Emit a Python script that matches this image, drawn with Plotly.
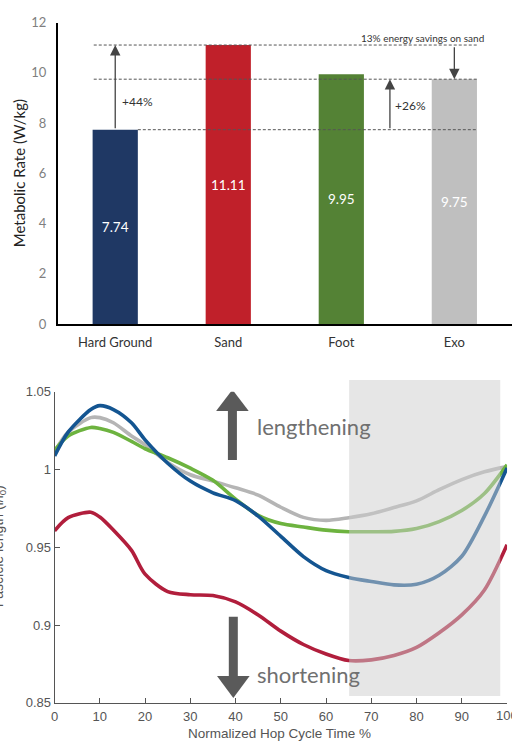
import plotly.graph_objects as go

# ---- Metabolic rate per condition ----
conditions = ["Hard Ground", "Sand", "Foot", "Exo"]
metabolic_rate = [7.74, 11.11, 9.95, 9.75]
bar_colors = ["#1f3864", "#c0202a", "#548235", "#bfbfbf"]

# ---- Fascicle length over the hop cycle ----
hop_pct = [0, 3, 8, 10, 13, 17, 20, 25, 30, 35, 40, 45, 50, 55, 60, 65, 70, 75, 80, 85, 90, 95, 100]
fl_blue = [1.0087, 1.0240, 1.0385, 1.0410, 1.0385, 1.0300, 1.0190, 1.0040, 0.9925, 0.9850, 0.9800, 0.9700,
           0.9570, 0.9440, 0.9350, 0.9306, 0.9280, 0.9258, 0.9262, 0.9320, 0.9442, 0.9700, 1.0010]
fl_gray = [1.0113, 1.0240, 1.0333, 1.0333, 1.0300, 1.0215, 1.0159, 1.0045, 0.9966, 0.9925, 0.9882, 0.9835,
           0.9757, 0.9692, 0.9673, 0.9690, 0.9715, 0.9755, 0.9798, 0.9870, 0.9935, 0.9985, 1.0018]
fl_green = [1.0123, 1.0215, 1.0270, 1.0263, 1.0238, 1.0180, 1.0133, 1.0075, 1.0008, 0.9930, 0.9809, 0.9705,
            0.9652, 0.9630, 0.9610, 0.9600, 0.9600, 0.9602, 0.9620, 0.9665, 0.9736, 0.9845, 1.0029]
fl_red = [0.9606, 0.9690, 0.9725, 0.9694, 0.9610, 0.9480, 0.9327, 0.9215, 0.9195, 0.9190, 0.9149, 0.9065,
          0.8961, 0.8875, 0.8814, 0.8772, 0.8776, 0.8804, 0.8856, 0.8950, 0.9065, 0.9225, 0.9516]
line_series = [(fl_gray, "#b5b5b5"), (fl_green, "#6db33f"), (fl_blue, "#145591"), (fl_red, "#b11e3c")]
x_ticks = [0, 10, 20, 30, 40, 50, 60, 70, 80, 90, 100]

W, H = 512, 750
CAL = "Lato, 'Open Sans', sans-serif"
ARIAL = "'Liberation Sans', Arial, sans-serif"

fig = go.Figure()

fig.add_trace(go.Bar(
    x=conditions, y=metabolic_rate, marker=dict(color=bar_colors, line=dict(width=0)),
    width=0.4, text=[f"{v:.2f}" for v in metabolic_rate], textposition="inside",
    insidetextanchor="middle", textangle=0,
    textfont=dict(family=CAL, size=13.5, color="white"),
    xaxis="x", yaxis="y", showlegend=False, hoverinfo="skip",
))

for vals, col in line_series:
    fig.add_trace(go.Scatter(
        x=hop_pct, y=vals, mode="lines", line=dict(color=col, width=3.6, shape="spline", smoothing=0.8),
        xaxis="x2", yaxis="y2", showlegend=False, hoverinfo="skip",
    ))

hg, sand, foot, exo = metabolic_rate
dash_col = "#555555"
shapes = [
    dict(type="line", xref="x", yref="y", x0=-0.19, x1=3.21, y0=sand, y1=sand,
         line=dict(color=dash_col, width=1, dash="3px,2px")),
    dict(type="line", xref="x", yref="y", x0=-0.19, x1=3.21, y0=exo, y1=exo,
         line=dict(color=dash_col, width=1, dash="3px,2px")),
    dict(type="line", xref="x", yref="y", x0=0.2, x1=3.2, y0=hg, y1=hg,
         line=dict(color=dash_col, width=1, dash="3px,2px")),
    # shaded late-cycle region, drawn over the curves so they fade inside it
    dict(type="rect", xref="x2", yref="paper", x0=65.1, x1=98.5, y0=1 - 703 / H, y1=1 - 380 / H,
         fillcolor="rgba(205,205,205,0.5)", line=dict(width=0), layer="above"),
    # lengthening arrow
    dict(type="line", xref="x2", yref="y2", x0=39.3, x1=39.3, y0=1.006, y1=1.038,
         line=dict(color="#5a5a5a", width=9)),
    dict(type="path", xref="x2", yref="y2", path="M 35.7 1.0375 L 42.9 1.0375 L 39.3 1.0513 Z",
         fillcolor="#5a5a5a", line=dict(width=0)),
    # shortening arrow
    dict(type="line", xref="x2", yref="y2", x0=39.5, x1=39.5, y0=0.9053, y1=0.866,
         line=dict(color="#5a5a5a", width=9)),
    dict(type="path", xref="x2", yref="y2", path="M 35.9 0.8672 L 43.1 0.8672 L 39.5 0.8531 Z",
         fillcolor="#5a5a5a", line=dict(width=0)),
]

arrow_kw = dict(showarrow=True, arrowhead=2, arrowsize=1.6, arrowwidth=1.3, arrowcolor="#444444",
                axref="x", ayref="y", xref="x", yref="y", text="")
annotations = [
    dict(x=0, y=sand, ax=0, ay=hg, **arrow_kw),
    dict(x=2.43, y=exo, ax=2.43, ay=hg, **arrow_kw),
    dict(x=3.0, y=exo, ax=3.0, ay=11.08, **arrow_kw),
    dict(x=0.04, y=8.85, xref="x", yref="y", text="+44%", showarrow=False, xanchor="left",
         font=dict(family=CAL, size=12, color="#333333")),
    dict(x=2.46, y=8.7, xref="x", yref="y", text="+26%", showarrow=False, xanchor="left",
         font=dict(family=CAL, size=12, color="#333333")),
    dict(x=2.72, y=11.38, xref="x", yref="y", text="13% energy savings on sand", showarrow=False,
         font=dict(family=CAL, size=10, color="#333333")),
    dict(x=16 / W, y=1 - 169 / H, xref="paper", yref="paper", text="Metabolic Rate (W/kg)",
         textangle=-90, showarrow=False, xanchor="center", yanchor="middle",
         font=dict(family=CAL, size=15, color="#222222")),
    dict(x=44.3, y=1.0274, xref="x2", yref="y2", text="lengthening", showarrow=False, xanchor="left",
         font=dict(family=CAL, size=22, color="#707070")),
    dict(x=44.3, y=0.8685, xref="x2", yref="y2", text="shortening", showarrow=False, xanchor="left",
         font=dict(family=CAL, size=22, color="#707070")),
    dict(x=278 / W, y=1 - 741 / H, xref="paper", yref="paper", text="Normalized Hop Cycle Time %",
         showarrow=False, xanchor="center", yanchor="middle",
         font=dict(family=ARIAL, size=13.5, color="#555555")),
    dict(x=-5 / W, y=1 - 550 / H, xref="paper", yref="paper", text="Fascicle length (l/l<sub>0</sub>)",
         textangle=-90, showarrow=False, xanchor="center", yanchor="middle",
         font=dict(family=ARIAL, size=14, color="#555555")),
    # last x tick label sits on the right edge of the canvas
    dict(x=x_ticks[-1], y=1 - 723 / H, xref="x2", yref="paper", text=str(x_ticks[-1]), showarrow=False,
         xanchor="center", yanchor="middle", font=dict(family=ARIAL, size=13, color="#555555")),
]

fig.update_layout(
    width=W, height=H, margin=dict(l=0, r=0, t=0, b=0),
    paper_bgcolor="white", plot_bgcolor="white",
    xaxis=dict(domain=[54 / W, 1], range=[-0.51, 3.51], anchor="y", showline=True, linecolor="black",
               linewidth=1.5, showgrid=False, zeroline=False, ticks="outside", ticklen=6,
               tickcolor="rgba(0,0,0,0)", tickfont=dict(family=CAL, size=13, color="#333333")),
    yaxis=dict(domain=[1 - 323 / H, 1 - 15 / H], range=[0, 12], dtick=2, anchor="x", showline=True,
               linecolor="black", linewidth=1.5, showgrid=False, zeroline=False, ticks="outside",
               ticklen=7, tickcolor="rgba(0,0,0,0)", tickfont=dict(family=CAL, size=13, color="#7f7f7f")),
    xaxis2=dict(domain=[51 / W, 507 / W], range=[0, 100], tickvals=x_ticks,
                ticktext=[str(t) for t in x_ticks[:-1]] + [""], anchor="y2", showline=True,
                linecolor="#555555", linewidth=1, showgrid=False, zeroline=False, ticks="inside", ticklen=5,
                tickcolor="#555555", ticklabelstandoff=2,
                tickfont=dict(family=ARIAL, size=13, color="#555555")),
    yaxis2=dict(domain=[1 - 710 / H, 1 - 392 / H], range=[0.85, 1.05], anchor="x2", showline=True,
                linecolor="#555555", linewidth=1, showgrid=False, zeroline=False, ticks="inside", ticklen=5,
                tickcolor="#555555", tickvals=[0.85, 0.9, 0.95, 1.0, 1.05],
                ticktext=["0.85", "0.9", "0.95", "1", "1.05"],
                tickfont=dict(family=ARIAL, size=13, color="#555555")),
    shapes=shapes, annotations=annotations,
)

fig.write_html("out.html")
